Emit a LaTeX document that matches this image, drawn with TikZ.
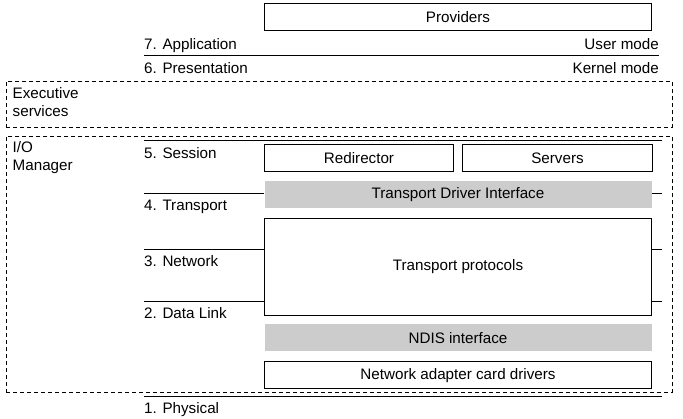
\documentclass[tikz,border=0pt]{standalone}
\usepackage{fontspec}
\setmainfont{Liberation Sans}
\usepackage{tikz}
\usetikzlibrary{calc,positioning}
\definecolor{ifgray}{RGB}{204,204,204}

\begin{document}
\begin{tikzpicture}[x=1pt, y=-1pt, font=\fontsize{15.2}{18}\selectfont,
    box/.style={draw, line width=1pt, inner sep=0pt, anchor=north west, minimum width=387pt, minimum height=27pt},
    iface/.style={box, draw=none, fill=ifgray},
    layer/.style={anchor=base west, inner sep=0pt},
    mode/.style={anchor=base east, inner sep=0pt},
    area/.style={draw, dashed, dash pattern=on 4pt off 3pt, line width=0.8pt, inner sep=0pt, anchor=north west, minimum width=666pt},
    sep/.style={line width=1pt}]
    \useasboundingbox (0,0) rectangle (683,419);

    \node [box] (providers) at (264,3) {Providers};

    \node [layer] (app) at (144,50) {7. Application};
    \node [mode] (user) at (659,50) {User mode};
    \node [layer] (pres) at (144,74) {6. Presentation};
    \node [mode] (kernel) at (659,74) {Kernel mode};
    \coordinate (mode_l) at (144,56);
    \coordinate (mode_r) at (659,56);
    \draw[sep] (mode_l) -- (mode_r);

    \node [area, minimum height=46pt] (exec) at (6,81) {};
    \node [anchor=north west, inner sep=0pt, align=left] (exec_lbl) at (12.5,87) {Executive\\services};

    \node [area, minimum height=256pt] (iomgr) at (6,136) {};
    \node [anchor=north west, inner sep=0pt, align=left] (io_lbl) at (12.5,141.5) {I/O\\Manager};

    \node [box, minimum width=189pt] (redir) at (264,144) {Redirector};
    \node [box, right=8pt of redir.north east, anchor=north west, minimum width=190pt] (servers) {Servers};
    \node [iface, minimum height=26.5pt] (tdi) at (264,181) {Transport Driver Interface};
    \node [box, minimum height=97pt] (proto) at (264,218) {Transport protocols};
    \node [iface] (ndis) at (264,324) {NDIS interface};
    \node [box] (nic) at (264,361.5) {Network adapter card drivers};

    \node [layer] (session) at (144,159) {5. Session};
    \node [layer] (transport) at (144,211) {4. Transport};
    \node [layer] (network) at (144,267) {3. Network};
    \node [layer] (datalink) at (144,319) {2. Data Link};
    \node [layer] (physical) at (144,414) {1. Physical};

    \coordinate (sess_l) at (144,141);
    \coordinate (sess_r) at (662,141);
    \coordinate (tr_l) at (144,194);
    \coordinate (tr_r) at (662,194);
    \coordinate (net_l) at (144,250);
    \coordinate (net_r) at (662,250);
    \coordinate (dl_l) at (144,302);
    \coordinate (dl_r) at (662,302);
    \coordinate (phy_l) at (144,397);
    \coordinate (phy_r) at (662,397);

    \draw[sep] (sess_l) -- (sess_r);
    \draw[sep] (tr_l) -- (tdi.west |- tr_l);
    \draw[sep] (tdi.east |- tr_r) -- (tr_r);
    \draw[sep] (net_l) -- (proto.west |- net_l);
    \draw[sep] (proto.east |- net_r) -- (net_r);
    \draw[sep] (dl_l) -- (proto.west |- dl_l);
    \draw[sep] (proto.east |- dl_r) -- (dl_r);
    \draw[sep] (phy_l) -- (phy_r);

\end{tikzpicture}
\end{document}
